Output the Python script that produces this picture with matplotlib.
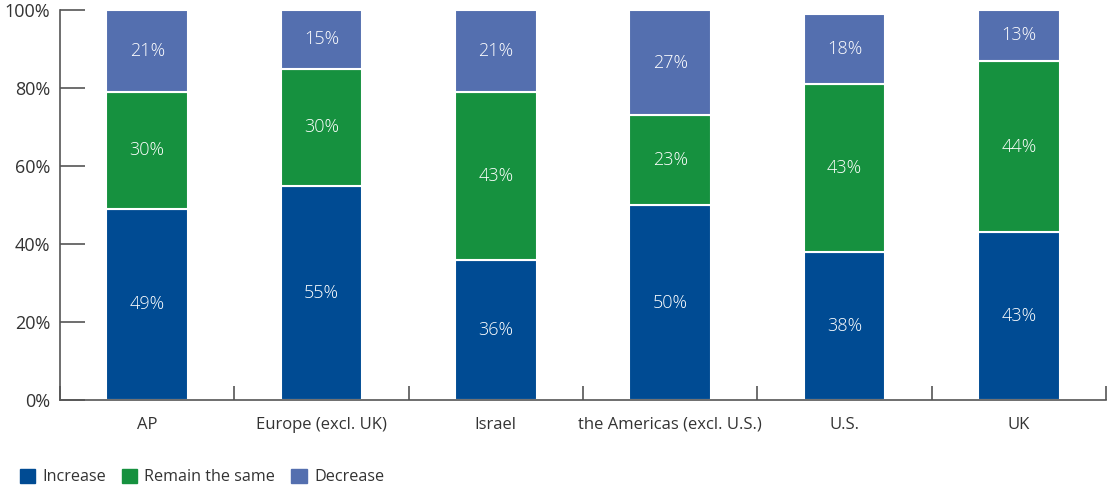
import matplotlib
matplotlib.use("Agg")
import matplotlib.pyplot as plt
from matplotlib.patches import Patch
import numpy as np

categories = ["AP", "Europe (excl. UK)", "Israel", "the Americas (excl. U.S.)", "U.S.", "UK"]
increase = [49, 55, 36, 50, 38, 43]
remain = [30, 30, 43, 23, 43, 44]
decrease = [21, 15, 21, 27, 18, 13]
series_names = ["Increase", "Remain the same", "Decrease"]
colors = ["#004B93", "#16913F", "#546FAF"]
yticks = [0, 20, 40, 60, 80, 100]

plt.rcParams['font.family'] = ['Open Sans', 'DejaVu Sans']

fig = plt.figure(figsize=(11.12, 4.91), dpi=100)
ax = fig.add_axes([60/1112, 1-400/491, (1106-60)/1112, 390/491])

x = np.arange(len(categories))
bottom = np.zeros(len(categories))
for vals, col in zip([increase, remain, decrease], colors):
    ax.bar(x, vals, width=0.47, bottom=bottom, color=col,
           edgecolor="white", linewidth=1.5, zorder=2)
    for xi, b, v in zip(x, bottom, vals):
        ax.text(xi, b + v/2, f"{v}%", ha="center", va="center",
                color="white", fontsize=13, fontweight="light")
    bottom += np.array(vals)

ax.set_xlim(-0.5, len(categories) - 0.5)
ax.set_ylim(0, 100)
ax.set_yticks(yticks)
ax.set_yticklabels([f"{t}%" for t in yticks], fontsize=13, color="#333333")
ax.tick_params(axis="y", direction="in", length=18, width=1.2, color="#555555", pad=7)

ax.set_xticks(np.arange(-0.5, len(categories)), minor=False)
ax.set_xticklabels([])
ax.set_xticks(x, minor=True)
ax.set_xticklabels(categories, minor=True, fontsize=12, color="#333333")
ax.tick_params(axis="x", which="major", direction="in", length=10, width=1.2, color="#555555")
ax.tick_params(axis="x", which="minor", length=0, pad=12)

for s in ["top", "right"]:
    ax.spines[s].set_visible(False)
for s in ["left", "bottom"]:
    ax.spines[s].set_color("#555555")
    ax.spines[s].set_linewidth(1.2)

handles = [Patch(facecolor=c, edgecolor=c) for c in colors]
fig.legend(handles, series_names, loc="center left", bbox_to_anchor=(5/1112, 1-477/491),
           ncol=3, frameon=False, fontsize=11.6, handlelength=0.95, handleheight=0.95,
           handletextpad=0.45, columnspacing=1.0, labelcolor="#333333")

fig.savefig("out.png", dpi=100)
